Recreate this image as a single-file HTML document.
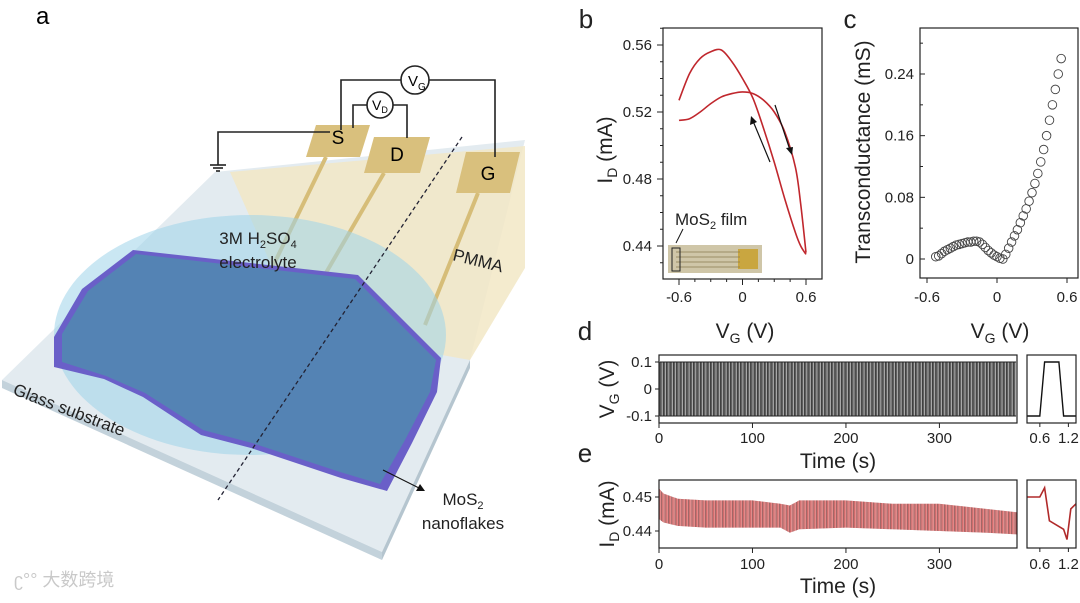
<!DOCTYPE html>
<html><head><meta charset="utf-8"><style>
body{margin:0;background:#fff;}
svg{display:block;font-family:"Liberation Sans","Noto Sans CJK SC",sans-serif;}
</style></head><body>
<svg id="fig" width="1080" height="603" viewBox="0 0 1080 603">
<g>
<text x="36" y="24" font-size="24">a</text>
<polygon points="2,380 215,172 525,140 470,360 382,552" fill="#e3ebf0"/>
<polygon points="2,380 382,552 382,560 2,388" fill="#c3d2db"/>
<polygon points="382,552 470,360 470,368 382,560" fill="#b5c5cf"/>
<polygon points="230,172 525,146 525,268 470,360 300,330" fill="#f2e8c6" opacity="0.85"/>
<g stroke="#d6bd78" stroke-width="4">
<line x1="326" y1="157" x2="272" y2="268"/><line x1="384" y1="173" x2="316" y2="290"/><line x1="478" y1="193" x2="425" y2="325"/>
</g>
<ellipse cx="250" cy="335" rx="196" ry="120" fill="#9fd3ea" opacity="0.55"/>
<polygon points="54,337 82,289 133,250 358,275 441,358 437,392 412,443 387,491 341,478 251,448 201,435 143,397 104,379 54,367" fill="#6a5fc8"/>
<polygon points="62,334 88,291 136,254 355,279 436,360 430,392 405,440 380,484 340,472 252,443 203,430 145,393 106,376 62,362" fill="#5483b4"/>
<g>
<polygon points="316,125 370,125 360,157 306,157" fill="#d9c07d"/>
<polygon points="374,137 430,137 420,173 364,173" fill="#d9c07d"/>
<polygon points="466,152 520,152 510,193 456,193" fill="#d9c07d"/>
<text x="338" y="144" font-size="19" text-anchor="middle">S</text>
<text x="397" y="161" font-size="19" text-anchor="middle">D</text>
<text x="488" y="180" font-size="19" text-anchor="middle">G</text>
</g>
<g fill="none" stroke="#222" stroke-width="1.6">
<polyline points="341,130 341,80 401,80"/><polyline points="429,80 495,80 495,157"/>
<polyline points="353,128 353,105 367,105"/><polyline points="393,105 407,105 407,138"/>
<polyline points="330,132 218,132 218,165"/>
<line x1="210" y1="165" x2="226" y2="165"/><line x1="213" y1="168" x2="223" y2="168"/><line x1="216" y1="171" x2="220" y2="171"/>
<circle cx="415" cy="80" r="14" fill="#fff"/><circle cx="380" cy="105" r="13" fill="#fff"/>
</g>
<text x="408" y="86" font-size="15">V<tspan font-size="10" dy="4">G</tspan></text>
<text x="372" y="110" font-size="14">V<tspan font-size="9" dy="3">D</tspan></text>
<line x1="462" y1="137" x2="218" y2="500" stroke="#223" stroke-width="1.3" stroke-dasharray="4,3"/>
<text x="258" y="244" font-size="17" text-anchor="middle" fill="#222">3M H<tspan font-size="11" dy="4">2</tspan><tspan dy="-4">SO</tspan><tspan font-size="11" dy="4">4</tspan></text>
<text x="258" y="268" font-size="17" text-anchor="middle" fill="#222">electrolyte</text>
<text x="452" y="260" font-size="17" fill="#222" transform="rotate(14 452 260)">PMMA</text>
<text x="12" y="394" font-size="17" fill="#222" transform="rotate(21 12 394)">Glass substrate</text>
<line x1="383" y1="470" x2="419" y2="488" stroke="#111" stroke-width="1"/>
<polygon points="425,491 416,491 420,484" fill="#111"/>
<text x="463" y="505" font-size="17" text-anchor="middle" fill="#222">MoS<tspan font-size="11" dy="4">2</tspan></text>
<text x="463" y="529" font-size="17" text-anchor="middle" fill="#222">nanoflakes</text>
<text x="14" y="586" font-size="18" fill="#c9c9c9">ʗ°° 大数跨境</text>
</g>
<g id="charts"></g>
</svg>
<script>
// Panel b data
const bX = [-0.6,-0.5,-0.4,-0.3,-0.2,-0.1,0,0.1,0.2,0.3,0.4,0.5,0.55,0.6];
const bForward = [0.527,0.543,0.552,0.556,0.557,0.550,0.540,0.528,0.510,0.490,0.468,0.448,0.440,0.435];
const bReverse = [0.515,0.516,0.520,0.525,0.529,0.531,0.532,0.531,0.527,0.520,0.508,0.487,0.465,0.436];
const bYTicks = [0.44,0.48,0.52,0.56];
const bXTicks = [-0.6,0,0.6];
// Panel c data
const cX = [-0.525,-0.5,-0.475,-0.45,-0.425,-0.4,-0.375,-0.35,-0.325,-0.3,-0.275,-0.25,-0.225,-0.2,-0.175,-0.15,-0.125,-0.1,-0.075,-0.05,-0.025,0,0.025,0.05,0.075,0.1,0.125,0.15,0.175,0.2,0.225,0.25,0.275,0.3,0.325,0.35,0.375,0.4,0.425,0.45,0.475,0.5,0.525,0.55];
const cGm = [0.003,0.004,0.007,0.010,0.012,0.014,0.016,0.018,0.019,0.020,0.021,0.022,0.022,0.023,0.023,0.022,0.019,0.015,0.011,0.008,0.005,0.003,0.001,0.000,0.006,0.014,0.022,0.030,0.038,0.047,0.056,0.065,0.075,0.086,0.098,0.111,0.126,0.142,0.160,0.180,0.200,0.220,0.240,0.260];
const cYTicks = [0,0.08,0.16,0.24];
const cXTicks = [-0.6,0,0.6];
// Panel d/e data
const timeTicks = [0,100,200,300];
const vgLevels = [-0.1,0.1];
const pulsePeriod = 1.2;
const eT = [0,5,20,50,100,130,140,150,200,250,300,350,383];
const eUpper = [0.4525,0.451,0.4495,0.449,0.449,0.448,0.4475,0.449,0.449,0.448,0.448,0.4465,0.4455];
const eLower = [0.4435,0.4425,0.4415,0.441,0.441,0.441,0.4395,0.4405,0.441,0.4405,0.440,0.4395,0.439];
const dYTicks = [-0.1,0,0.1];
const eYTicks = [0.44,0.45];
const insetT = [0.33,0.6,0.7,1.0,1.1,1.36];
const insetVg = [-0.1,-0.1,0.1,0.1,-0.1,-0.1];
const insetIT = [0.33,0.6,0.7,0.8,1.1,1.17,1.25,1.36];
const insetI = [0.450,0.450,0.4527,0.443,0.4405,0.4375,0.4465,0.448];
const insetTicks = [0.6,1.2];

const NS='http://www.w3.org/2000/svg';
const root=document.getElementById('charts');
function mk(tag,attrs,parent){const e=document.createElementNS(NS,tag);for(const k in attrs)e.setAttribute(k,attrs[k]);(parent||root).appendChild(e);return e;}
function lin(d0,d1,r0,r1){return v=>r0+(v-d0)*(r1-r0)/(d1-d0);}
function txt(x,y,s,size,anchor,parent){const t=mk('text',{x:x,y:y,'font-size':size,'text-anchor':anchor||'middle',fill:'#222'},parent);t.textContent=s;return t;}
function fmt(v){return v===0?'0':String(v);}
function path(xs,ys,fx,fy){return xs.map((v,i)=>(i?'L':'M')+fx(v).toFixed(1)+','+fy(ys[i]).toFixed(1)).join('');}
function smooth(xs,ys,fx,fy){const p=xs.map((v,i)=>[fx(v),fy(ys[i])]);let d='M'+p[0][0]+','+p[0][1];for(let i=0;i<p.length-1;i++){const a=p[i-1]||p[i],b=p[i],c=p[i+1],e=p[i+2]||c;d+='C'+(b[0]+(c[0]-a[0])/6)+','+(b[1]+(c[1]-a[1])/6)+' '+(c[0]-(e[0]-b[0])/6)+','+(c[1]-(e[1]-b[1])/6)+' '+c[0]+','+c[1];}return d;}

// Panel b
const gb=mk('g',{});


const bx=lin(-0.6,0.6,679,806), by=lin(0.44,0.56,246,45);
txt(586,28,'b',26,'middle',gb);
const inset=mk('rect',{x:668,y:245,width:94,height:28,fill:'#cfc6a8'},gb);


mk('rect',{x:738,y:249,width:20,height:20,fill:'#c9a640'},gb);
for(let i=0;i<4;i++)mk('line',{x1:676,y1:252+i*5,x2:740,y2:252+i*5,stroke:'#8a7a50','stroke-width':0.8},gb);
mk('rect',{x:672,y:248,width:8,height:23,fill:'none',stroke:'#222','stroke-width':1},gb);
const ft=txt(675,225,'MoS',17,'start',gb);


const ts=mk('tspan',{'font-size':11,dy:4},ft);ts.textContent='2';
const ts2=mk('tspan',{dy:-4},ft);ts2.textContent=' film';
mk('line',{x1:683,y1:229,x2:676,y2:243,stroke:'#111','stroke-width':1},gb);
const l1=mk('path',{d:smooth(bX,bForward,bx,by),fill:'none',stroke:'#c0272d','stroke-width':1.6},gb);


const l2=mk('path',{d:smooth(bX,bReverse,bx,by),fill:'none',stroke:'#c0272d','stroke-width':1.6},gb);


mk('line',{x1:770,y1:162,x2:753,y2:121,stroke:'#111','stroke-width':1.2},gb);
mk('polygon',{points:'751,116 750,125 757,122',fill:'#111'},gb);
mk('line',{x1:775,y1:105,x2:790,y2:150,stroke:'#111','stroke-width':1.2},gb);
mk('polygon',{points:'792,155 786,148 793,147',fill:'#111'},gb);
const fb=mk('rect',{x:663,y:28,width:159,height:251,fill:'none',stroke:'#222','stroke-width':1.2},gb);


bYTicks.forEach(v=>{mk('line',{x1:657,y1:by(v),x2:663,y2:by(v),stroke:'#222'},gb);const t=txt(652,by(v)+5,fmt(v),15,'end',gb);});
for(let v=0.43;v<0.575;v+=0.01){mk('line',{x1:660,y1:by(v),x2:663,y2:by(v),stroke:'#222'},gb);}
bXTicks.forEach(v=>{mk('line',{x1:bx(v),y1:279,x2:bx(v),y2:285,stroke:'#222'},gb);const t=txt(bx(v),302,fmt(v),15,'middle',gb);});
for(let v=-0.6;v<0.65;v+=0.15){mk('line',{x1:bx(v),y1:279,x2:bx(v),y2:282,stroke:'#222'},gb);}
const byl=mk('text',{x:0,y:0,'font-size':21,'text-anchor':'middle',fill:'#222',transform:'translate(612,150) rotate(-90)'},gb);


byl.innerHTML='I<tspan font-size="14" dy="5">D</tspan><tspan dy="-5"> (mA)</tspan>';
const bxl=mk('text',{x:745,y:338,'font-size':21,'text-anchor':'middle',fill:'#222'},gb);


bxl.innerHTML='V<tspan font-size="14" dy="5">G</tspan><tspan dy="-5"> (V)</tspan>';

// Panel c
const gc=mk('g',{});


const cx=lin(0,0.6,997,1067), cy=lin(0,0.24,259,74);
txt(850,28,'c',26,'middle',gc);
cX.forEach((v,i)=>{const c=mk('circle',{cx:cx(v),cy:cy(cGm[i]),r:4.3,fill:'none',stroke:'#444','stroke-width':0.9},gc);});
const fc=mk('rect',{x:920,y:28,width:158,height:250,fill:'none',stroke:'#222','stroke-width':1.2},gc);


cYTicks.forEach(v=>{mk('line',{x1:920,y1:cy(v),x2:925,y2:cy(v),stroke:'#222'},gc);const t=txt(914,cy(v)+5,fmt(v),15,'end',gc);});
for(let v=0.04;v<0.29;v+=0.08){mk('line',{x1:920,y1:cy(v),x2:923,y2:cy(v),stroke:'#222'},gc);}
cXTicks.forEach(v=>{mk('line',{x1:cx(v),y1:278,x2:cx(v),y2:283,stroke:'#222'},gc);const t=txt(cx(v),302,fmt(v),15,'middle',gc);});
const cyl=txt(0,0,'Transconductance (mS)',21,'middle',gc);
cyl.setAttribute('transform','translate(870,152) rotate(-90)');


const cxl=mk('text',{x:1000,y:338,'font-size':21,'text-anchor':'middle',fill:'#222'},gc);


cxl.innerHTML='V<tspan font-size="14" dy="5">G</tspan><tspan dy="-5"> (V)</tspan>';

// Panel d
const tx=lin(0,383,659,1017);
const gd=mk('g',{});


txt(585,340,'d',26,'middle',gd);
const dy=lin(-0.1,0.1,416,362);
mk('rect',{x:tx(1),y:dy(0.1),width:tx(382)-tx(1),height:dy(-0.1)-dy(0.1),fill:'#6e6e6e'},gd);
let k=0;
for(let t=1;t<382;t+=pulsePeriod){k++;const c=(k%3===0)?'#cfcfcf':(k%3===1?'#222':'#555');mk('line',{x1:tx(t),y1:dy(vgLevels[1]),x2:tx(t),y2:dy(vgLevels[0]),stroke:c,'stroke-width':0.6},gd);}
mk('line',{x1:tx(1),y1:dy(0.1),x2:tx(382),y2:dy(0.1),stroke:'#222'},gd);
mk('line',{x1:tx(1),y1:dy(-0.1),x2:tx(382),y2:dy(-0.1),stroke:'#222'},gd);
const fd=mk('rect',{x:659,y:355,width:358,height:68,fill:'none',stroke:'#222','stroke-width':1.2},gd);


dYTicks.forEach(v=>{mk('line',{x1:655,y1:dy(v),x2:659,y2:dy(v),stroke:'#222'},gd);const t=txt(652,dy(v)+5,fmt(v),15,'end',gd);});
timeTicks.forEach(v=>{mk('line',{x1:tx(v),y1:423,x2:tx(v),y2:428,stroke:'#222'},gd);const t=txt(tx(v),443,String(v),15,'middle',gd);});
const dyl=mk('text',{x:0,y:0,'font-size':21,'text-anchor':'middle',fill:'#222',transform:'translate(614,389) rotate(-90)'},gd);


dyl.innerHTML='V<tspan font-size="14" dy="5">G</tspan><tspan dy="-5"> (V)</tspan>';
const dxl=txt(838,468,'Time (s)',21,'middle',gd);


const ix=lin(0.33,1.36,1027,1076);
const pid=mk('path',{d:path(insetT,insetVg,ix,dy),fill:'none',stroke:'#111','stroke-width':1.4},gd);


mk('rect',{x:1027,y:355,width:49,height:68,fill:'none',stroke:'#222','stroke-width':1.2},gd);
insetTicks.forEach(v=>{mk('line',{x1:ix(v),y1:423,x2:ix(v),y2:427,stroke:'#222'},gd);txt(ix(v),443,String(v),15,'middle',gd);});

// Panel e
const ge=mk('g',{});


txt(585,462,'e',26,'middle',ge);
const ey=lin(0.44,0.45,531,497);
const band='M'+eT.map((t,i)=>tx(t)+','+ey(eUpper[i])).join('L')+'L'+eT.slice().reverse().map((t,i)=>tx(t)+','+ey(eLower[eT.length-1-i])).join('L')+'Z';
const be=mk('path',{d:band,fill:'#e08a8a',opacity:0.8},ge);


function interp(xs,ys,x){for(let i=1;i<xs.length;i++){if(x<=xs[i]){const f=(x-xs[i-1])/(xs[i]-xs[i-1]);return ys[i-1]+f*(ys[i]-ys[i-1]);}}return ys[ys.length-1];}
k=0;
for(let t=0.5;t<383;t+=pulsePeriod){k++;const c=(k%3===0)?'#5a2a2a':(k%3===1?'#b83232':'#e07070');mk('line',{x1:tx(t),y1:ey(interp(eT,eUpper,t)),x2:tx(t),y2:ey(interp(eT,eLower,t)),stroke:c,'stroke-width':0.6,opacity:0.8},ge);}
const fe=mk('rect',{x:659,y:480,width:358,height:68,fill:'none',stroke:'#222','stroke-width':1.2},ge);


eYTicks.forEach(v=>{mk('line',{x1:655,y1:ey(v),x2:659,y2:ey(v),stroke:'#222'},ge);const t=txt(652,ey(v)+5,fmt(v),15,'end',ge);});
timeTicks.forEach(v=>{mk('line',{x1:tx(v),y1:548,x2:tx(v),y2:553,stroke:'#222'},ge);const t=txt(tx(v),569,String(v),15,'middle',ge);});
const eyl=mk('text',{x:0,y:0,'font-size':21,'text-anchor':'middle',fill:'#222',transform:'translate(614,514) rotate(-90)'},ge);


eyl.innerHTML='I<tspan font-size="14" dy="5">D</tspan><tspan dy="-5"> (mA)</tspan>';
const exl=txt(838,593,'Time (s)',21,'middle',ge);


const pie=mk('path',{d:path(insetIT,insetI,ix,ey),fill:'none',stroke:'#b02a2a','stroke-width':1.6},ge);


mk('rect',{x:1027,y:480,width:49,height:68,fill:'none',stroke:'#222','stroke-width':1.2},ge);
insetTicks.forEach(v=>{mk('line',{x1:ix(v),y1:548,x2:ix(v),y2:552,stroke:'#222'},ge);txt(ix(v),569,String(v),15,'middle',ge);});
</script>
</body></html>
